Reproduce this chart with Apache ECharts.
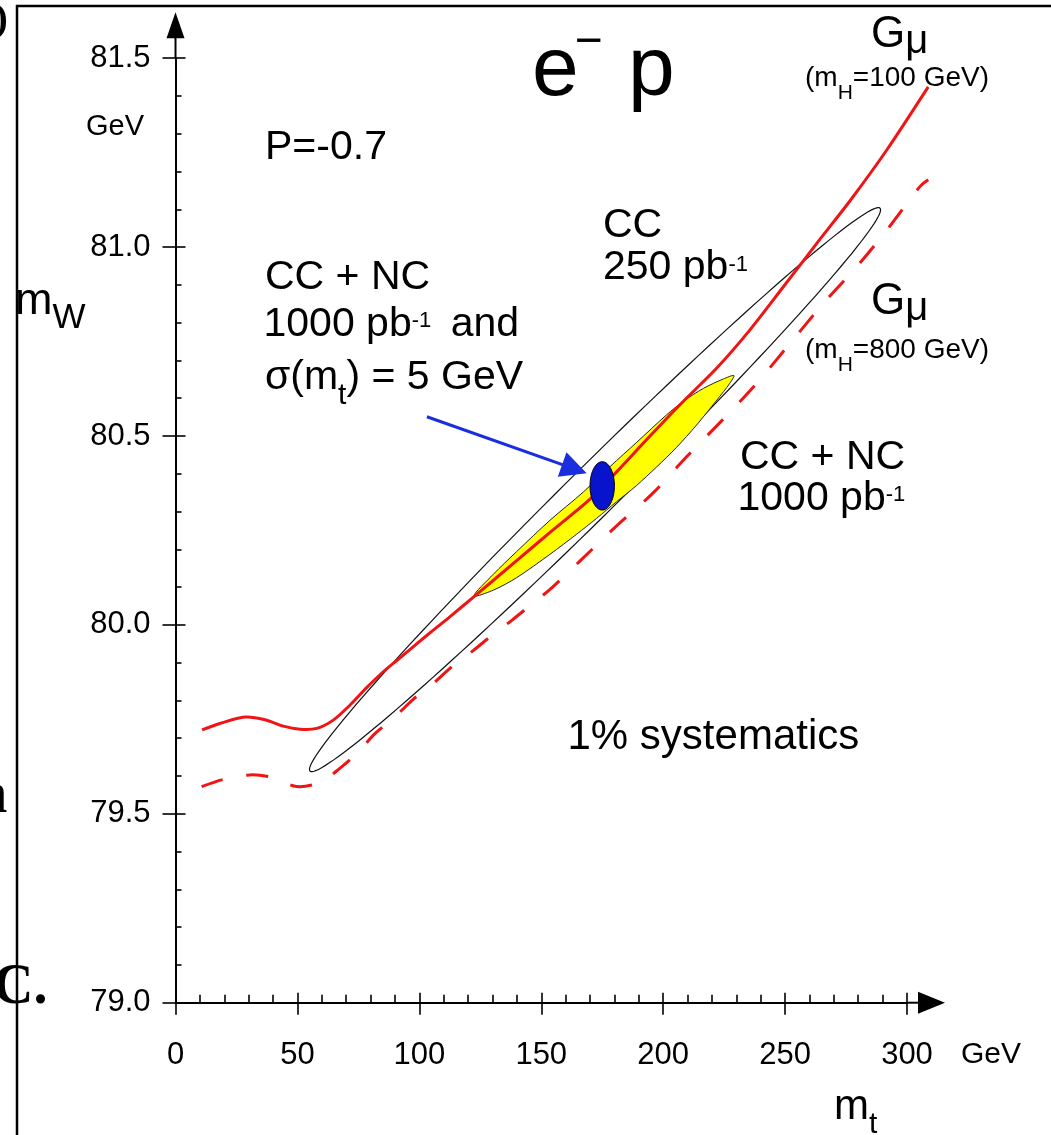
<!DOCTYPE html>
<html><head><meta charset="utf-8">
<script src="https://cdn.jsdelivr.net/npm/echarts@6/dist/echarts.min.js"></script>
<style>html,body{margin:0;padding:0;background:#fff;}#c{width:1051px;height:1135px;}</style>
</head><body><div id="c"></div>
<script>
const FONT = '"Liberation Sans", Arial, Helvetica, sans-serif';
const SERIF = '"Liberation Serif", "Times New Roman", serif';

// axes
const xMin = 0, xMax = 300, xStep = 50;      // m_t (GeV)
const yMin = 79.0, yMax = 81.5, yStep = 0.5; // m_W (GeV)

// G_mu prediction, m_H = 100 GeV (solid red)
const gmu100 = [[10.9,79.722],[18.2,79.739],[28.5,79.756],[36.7,79.749],[44.2,79.732],[51.1,79.724],[57.9,79.726],[64.7,79.748],[71.6,79.788],[78.4,79.834],[85.2,79.876],[92.1,79.913],[98.9,79.950],[105.7,79.986],[112.6,80.022],[122.8,80.077],[139.9,80.170],[153.6,80.245],[170.0,80.333],[180.9,80.405],[194.6,80.500],[208.3,80.592],[222.0,80.680],[235.6,80.781],[249.3,80.895],[263.0,81.010],[276.8,81.124],[291.7,81.257],[308.7,81.424]];

// G_mu prediction, m_H = 800 GeV (dashed red)
const gmu800 = [[10.7,79.572],[19.6,79.591],[30.6,79.603],[40.1,79.596],[49.7,79.572],[59.3,79.583],[67.5,79.621],[74.8,79.663],[81.8,79.712],[90.0,79.757],[97.5,79.803],[105.7,79.845],[113.3,79.889],[122.1,79.932],[129.7,79.972],[137.9,80.012],[146.1,80.055],[153.6,80.094],[165.2,80.165],[180.9,80.262],[196.0,80.350],[209.6,80.445],[224.7,80.545],[238.4,80.640],[252.0,80.745],[265.7,80.851],[279.4,80.948],[291.7,81.045],[305.3,81.160],[308.7,81.178]];

// CC 250 pb-1 contour: lower tip, upper tip, point on the edge at mid-length
const cc250 = [[55.16,79.613,288.94,81.103,164.83,80.405]];

// CC + NC 1000 pb-1 contour (yellow), outline points
const ccnc1000 = [[122.4,80.077],[130.35,80.134],[139.9,80.194],[153.6,80.277],[167.3,80.352],[178.2,80.419],[189.1,80.483],[201.4,80.556],[208.3,80.592],[216.5,80.626],[224.7,80.651],[229.0,80.660],[227.4,80.640],[222.0,80.595],[213.7,80.529],[205.5,80.470],[197.3,80.418],[189.1,80.369],[180.9,80.326],[172.7,80.282],[164.5,80.240],[153.6,80.187],[139.9,80.125],[130.35,80.092]];

// CC + NC 1000 pb-1 and sigma(m_t) = 5 GeV: centre (m_t, m_W) and half widths
const ccncMt = [[175.0,80.368,5.0,0.064]];

// arrow from the label to the blue contour
const arrowLine = [[103.1,80.551],[163.6,80.413]];

const xTicks = [0,50,100,150,200,250,300];
const yTicks = [79.0,79.5,80.0,80.5,81.0,81.5];

function ellipsePts(cx, cy, a, b, ang, n) {
  const pts = [];
  for (let i = 0; i < n; i++) {
    const t = 2 * Math.PI * i / n, x = a * Math.cos(t), y = b * Math.sin(t);
    pts.push([cx + x * Math.cos(ang) - y * Math.sin(ang), cy + x * Math.sin(ang) + y * Math.cos(ang)]);
  }
  return pts;
}

const axisBase = {type: 'value', gridIndex: 0, splitLine: {show: false}};
function xAx(main) {
  return Object.assign({}, axisBase, {
    min: xMin, max: xMax, interval: xStep, position: 'bottom', offset: 0,
    axisLine: {show: main, onZero: false, lineStyle: {color: '#000', width: 2}},
    axisTick: {show: true, inside: main, length: main ? 10 : 12, lineStyle: {color: '#000', width: 1.6}},
    minorTick: {show: main, splitNumber: 5, length: 8, lineStyle: {color: '#000', width: 1.6}},
    axisLabel: {show: main, color: '#000', fontSize: 31, fontFamily: FONT, margin: 37,
      formatter: v => xTicks.indexOf(v) >= 0 ? String(v) : ''}
  });
}
function yAx(main) {
  return Object.assign({}, axisBase, {
    min: yMin, max: yMax, interval: yStep, position: 'left', offset: 0,
    axisLine: {show: main, onZero: false, lineStyle: {color: '#000', width: 2}},
    axisTick: {show: true, inside: main, length: main ? 10 : 13, lineStyle: {color: '#000', width: 1.6}},
    minorTick: {show: main, splitNumber: 5, length: 6, lineStyle: {color: '#000', width: 1.6}},
    axisLabel: {show: main, color: '#000', fontSize: 31, fontFamily: FONT, margin: 25,
      formatter: v => v.toFixed(1)}
  });
}

function curveSeries(name, pts, dash) {
  return {
    type: 'custom', name: name, data: pts, z: 3, silent: true, clip: false,
    renderItem: (params, api) => {
      if (params.dataIndex !== 0) return;
      return {type: 'polyline', shape: {points: pts.map(p => api.coord(p)), smooth: 0.3},
        style: {fill: 'none', stroke: '#f01414', lineWidth: 3, lineDash: dash || null}};
    }
  };
}

const option = {
  animation: false,
  backgroundColor: '#fff',
  grid: {left: 175.5, right: 144, top: 58.2, bottom: 132.3, containLabel: false, outerBoundsMode: 'none'},
  xAxis: [xAx(true), xAx(false)],
  yAxis: [yAx(true), yAx(false)],
  series: [
    {
      type: 'custom', name: 'CC 250', data: cc250, z: 1, silent: true,
      encode: {x: [0, 2, 4], y: [1, 3, 5]},
      renderItem: (params, api) => {
        const p1 = api.coord([api.value(0), api.value(1)]);
        const p2 = api.coord([api.value(2), api.value(3)]);
        const pe = api.coord([api.value(4), api.value(5)]);
        const cx = (p1[0] + p2[0]) / 2, cy = (p1[1] + p2[1]) / 2;
        const dx = p2[0] - p1[0], dy = p2[1] - p1[1], L = Math.hypot(dx, dy);
        const b = Math.abs((pe[0] - cx) * dy - (pe[1] - cy) * dx) / L;
        return {type: 'polygon', shape: {points: ellipsePts(cx, cy, L / 2, b, Math.atan2(dy, dx), 160)},
          style: {fill: 'none', stroke: '#111', lineWidth: 1.2}};
      }
    },
    {
      type: 'custom', name: 'CC+NC 1000', data: ccnc1000, z: 2, silent: true,
      renderItem: (params, api) => {
        if (params.dataIndex !== 0) return;
        const pts = ccnc1000.map(p => api.coord(p));
        return {type: 'polygon', shape: {points: pts, smooth: 0.3},
          style: {fill: '#ffff00', stroke: '#222', lineWidth: 1}};
      }
    },
    curveSeries('mH100', gmu100, null),
    curveSeries('mH800', gmu800, [22, 24]),
    {
      type: 'custom', name: 'mt5', data: ccncMt, z: 4, silent: true,
      encode: {x: 0, y: 1},
      renderItem: (params, api) => {
        const c = api.coord([api.value(0), api.value(1)]);
        const s = api.size([api.value(2), api.value(3)]);
        return {type: 'polygon', shape: {points: ellipsePts(c[0], c[1], s[0], s[1], 0, 80)},
          style: {fill: '#0814cc', stroke: '#000', lineWidth: 1}};
      }
    },
    {
      type: 'lines', coordinateSystem: 'cartesian2d', z: 5, silent: true,
      data: [{coords: arrowLine}],
      symbol: ['none', 'triangle'], symbolSize: [16, 26],
      lineStyle: {color: '#1a2ee0', width: 3, opacity: 1}
    }
  ]
};

const chart = echarts.init(document.getElementById('c'), null, {renderer: 'canvas', width: 1051, height: 1135});
chart.setOption(option);

// ---------- annotations ----------
const BK = 0.8465;
const mctx = document.createElement('canvas').getContext('2d');
function tw(s, fs, fam, bold) { mctx.font = (bold ? 'bold ' : '') + fs + 'px ' + fam; return mctx.measureText(s).width; }
function T(s, x, base, fs, o) {
  o = o || {};
  return {type: 'text', x: x, y: base - BK * fs, silent: true, z: 10,
    style: {text: s, fill: '#000', fontSize: fs, fontFamily: o.fam || FONT, fontWeight: o.bold ? 'bold' : 'normal',
      align: 'left', verticalAlign: 'top', textAlign: 'left', textVerticalAlign: 'top'}};
}
function run(x, base, parts) {
  const out = []; let cx = x;
  parts.forEach(p => {
    const s = p[0], fs = p[1], dy = p[2] || 0, dx = p[3] || 0;
    cx += dx;
    out.push(T(s, cx, base + dy, fs));
    cx += tw(s, fs, FONT);
  });
  return out;
}

const texts = [].concat(
  [T('e', 532, 101, 84), T('\u2212', 574.6, 59, 48), T('p', 628, 101, 84)],
  run(871, 50, [['G', 44], ['\u03bc', 40, 6]]),
  run(805, 88, [['(m', 28], ['H', 21, 12], ['=100 GeV)', 28]]),
  run(871, 316.7, [['G', 44], ['\u03bc', 40, 6]]),
  run(805, 360, [['(m', 28], ['H', 21, 12], ['=800 GeV)', 28]]),
  [T('P=-0.7', 265, 161.7, 41)],
  [T('GeV', 86, 136.7, 29)],
  run(15, 317, [['m', 45], ['W', 35, 13]]),
  [T('CC', 603, 240, 41)],
  run(603, 282, [['250 pb', 41], ['-1', 22, -9]]),
  [T('CC + NC', 265, 291.7, 41)],
  run(263.5, 339, [['1000 pb', 41], ['-1', 22, -10], [' and', 41, 0, 8]]),
  run(265, 392, [['\u03c3(m', 41], ['t', 30, 14], [') = 5 GeV', 41]]),
  [T('CC + NC', 740, 472, 41)],
  run(737.5, 513, [['1000 pb', 41], ['-1', 22, -10]]),
  [T('1% systematics', 567.5, 752, 42)],
  [T('GeV', 961, 1065, 30)],
  run(834, 1122, [['m', 42], ['t', 30, 13]]),
  [T(')', -5.5, 35, 40, {fam: SERIF, bold: true}), T('n', -26, 817, 60, {fam: SERIF, bold: true}),
   T('C.', -7, 1008, 56, {fam: SERIF, bold: true})]
);

const pX = chart.convertToPixel({gridIndex: 0}, [xMax, yMin]);
const pY = chart.convertToPixel({gridIndex: 0}, [xMin, yMax]);
const frame = [
  {type: 'line', shape: {x1: 17, y1: 5, x2: 17, y2: 1135}, style: {stroke: '#000', lineWidth: 2.5}, z: 20, silent: true},
  {type: 'line', shape: {x1: 16, y1: 6, x2: 1051, y2: 6}, style: {stroke: '#000', lineWidth: 2.5}, z: 20, silent: true}
];
const arrows = [
  {type: 'line', shape: {x1: pX[0], y1: pX[1], x2: pX[0] + 14, y2: pX[1]}, style: {stroke: '#000', lineWidth: 2}, silent: true},
  {type: 'polygon', shape: {points: [[pX[0] + 11, pX[1] - 11], [pX[0] + 38, pX[1]], [pX[0] + 11, pX[1] + 11]]}, style: {fill: '#000'}, silent: true},
  {type: 'line', shape: {x1: pY[0], y1: pY[1], x2: pY[0], y2: pY[1] - 22}, style: {stroke: '#000', lineWidth: 2}, silent: true},
  {type: 'polygon', shape: {points: [[pY[0] - 9, pY[1] - 20], [pY[0], pY[1] - 46], [pY[0] + 9, pY[1] - 20]]}, style: {fill: '#000'}, silent: true}
];
chart.setOption({graphic: {elements: [].concat(frame, arrows, texts)}});
</script>
</body></html>
